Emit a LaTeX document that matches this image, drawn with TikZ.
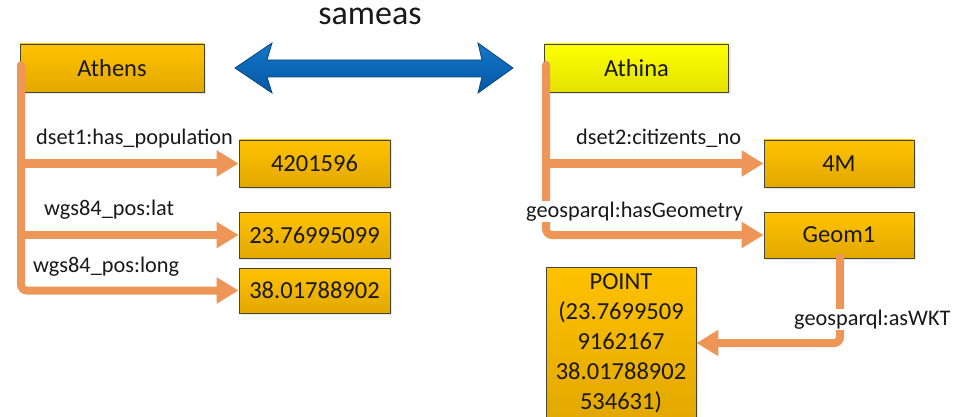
\documentclass[tikz,border=0pt]{standalone}
\usepackage{fontspec}
\setmainfont{Carlito}
\usetikzlibrary{arrows.meta,calc,shadows}
\definecolor{connc}{RGB}{237,150,88}
\definecolor{boxtop}{RGB}{255,194,0}
\definecolor{boxbot}{RGB}{226,168,0}
\definecolor{yeltop}{RGB}{255,255,0}
\definecolor{yelbot}{RGB}{226,226,0}
\definecolor{edge}{RGB}{70,70,50}
\definecolor{txt}{RGB}{25,25,25}
\definecolor{bluetop}{RGB}{20,118,200}
\definecolor{bluebot}{RGB}{5,88,165}
\definecolor{blueedge}{RGB}{10,70,130}
\begin{document}
\begin{tikzpicture}[x=1pt,y=-1pt,
  box/.style={draw=edge, line width=0.9pt, top color=boxtop, bottom color=boxbot,
    inner sep=0pt, font=\fontsize{24.5}{30}\selectfont, text=txt,
    drop shadow={opacity=0.2, shadow xshift=2pt, shadow yshift=-2pt}},
  lbl/.style={font=\fontsize{22.3}{26}\selectfont, text=txt, inner sep=1pt, anchor=base west},
  conn/.style={draw=connc, line width=8pt, rounded corners=6pt},
  tip/.style={-{Triangle[length=22pt,width=25pt]}}]
\useasboundingbox (0,0) rectangle (953,417);

% title and sameas arrow
\node[font=\fontsize{34}{40}\selectfont, text=txt, anchor=base, inner sep=0pt] (sameas) at (370,25) {sameas};
\draw[draw=blueedge, line width=0.8pt, top color=bluetop, bottom color=bluebot]
  (235,68) -- (272,43) -- (267,60) -- (482,60) -- (478,43) -- (513,68)
  -- (478,93) -- (482,77) -- (267,77) -- (272,93) -- cycle;

% boxes
\node[box, minimum width=184pt, minimum height=48pt] (athens) at (112,68) {Athens};
\node[box, top color=yeltop, bottom color=yelbot, minimum width=184pt, minimum height=48pt] (athina) at (636.5,68) {Athina};
\node[box, minimum width=151pt, minimum height=47pt] (pop) at (314.5,163.5) {4201596};
\node[box, minimum width=151pt, minimum height=46pt] (lat) at (314.5,235) {23.76995099};
\node[box, minimum width=151pt, minimum height=45pt] (lon) at (314.5,290.5) {38.01788902};
\node[box, minimum width=150pt, minimum height=47pt] (fourm) at (839,163.5) {4M};
\node[box, minimum width=150pt, minimum height=46pt] (geom) at (839,235) {Geom1};
\node[box, minimum width=150pt, minimum height=152pt, align=center] (point) at (621,343)
  {POINT\\(23.7699509\\9162167\\38.01788902\\534631)};

% connectors Athens
\coordinate (a0) at (21,65);
\draw[conn, line cap=round, tip] (a0) |- (lon.west);
\draw[conn, tip] (a0 |- pop.west) -- (pop.west);
\draw[conn, tip] (a0 |- lat.west) -- (lat.west);

% connectors Athina
\coordinate (b0) at (546,65);
\draw[conn, line cap=round, tip] (b0) |- (geom.west);
\draw[conn, tip] (b0 |- fourm.west) -- (fourm.west);

% Geom1 -> POINT
\coordinate (g0) at ($(geom.south)+(1,-1)$);
\draw[conn, line cap=round, tip] (g0) |- (point.east);

% labels
\node[lbl] (l1) at (35,145) {dset1:has\_population};
\node[lbl] (l2) at (43,215) {wgs84\_pos:lat};
\node[lbl] (l3) at (32,272) {wgs84\_pos:long};
\node[lbl] (l4) at (575,145) {dset2:citizents\_no};
\node[lbl, fill=white] (l5) at (525,217) {geosparql:hasGeometry};
\node[lbl, fill=white] (l6) at (793,325) {geosparql:asWKT};
\end{tikzpicture}
\end{document}
